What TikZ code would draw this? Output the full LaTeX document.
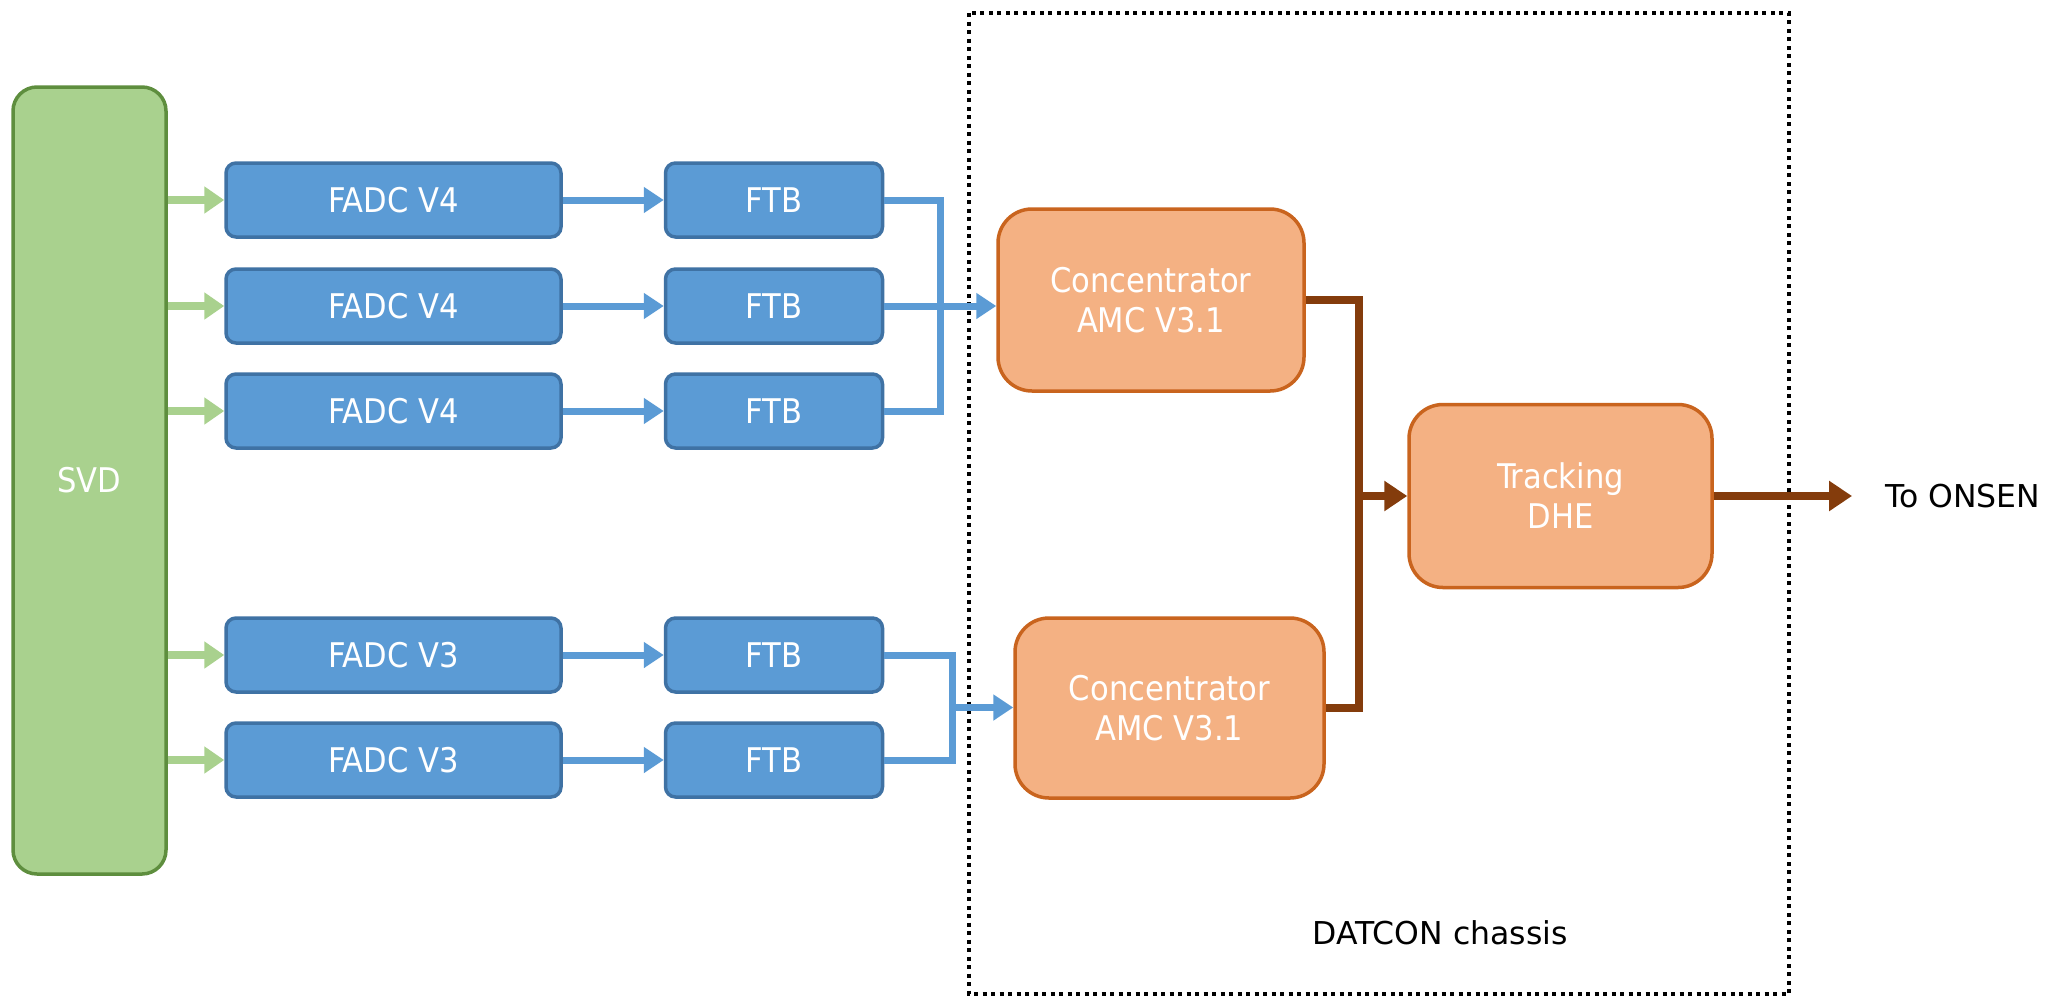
\documentclass[tikz,border=0pt]{standalone}
\usepackage{fontspec}
\setmainfont{DejaVu Sans}
\newfontfamily\boxfont{DejaVu Sans Condensed}
\usetikzlibrary{arrows.meta}

\definecolor{svdfill}{HTML}{A9D18E}
\definecolor{svdline}{HTML}{5E8E3E}
\definecolor{bluefill}{HTML}{5B9BD5}
\definecolor{blueline}{HTML}{3F72A4}
\definecolor{orangefill}{HTML}{F4B183}
\definecolor{orangeline}{HTML}{C9641E}
\definecolor{brownline}{HTML}{843C0C}
\definecolor{greenarrow}{HTML}{A9D18E}

\tikzset{
  svdbox/.style={draw=svdline, fill=svdfill, line width=3.5pt, rounded corners=24pt,
    minimum width=153pt, minimum height=787pt, inner sep=0pt,
    text=white, font=\boxfont\fontsize{34}{40}\selectfont},
  fadcbox/.style={draw=blueline, fill=bluefill, line width=3.5pt, rounded corners=10pt,
    minimum width=335pt, minimum height=74pt, inner sep=0pt,
    text=white, font=\boxfont\fontsize{34}{40}\selectfont},
  ftbbox/.style={fadcbox, minimum width=217pt},
  concbox/.style={draw=orangeline, fill=orangefill, line width=3.5pt, rounded corners=34pt,
    minimum width=306pt, minimum height=182pt, inner sep=0pt, align=center,
    text=white, font=\boxfont\fontsize{34}{40}\selectfont},
  garrow/.style={draw=greenarrow, line width=8pt, -{Triangle[width=26pt,length=20pt]}},
  bline/.style={draw=bluefill, line width=7pt, line join=miter},
  barrow/.style={bline, -{Triangle[width=25pt,length=20pt]}},
  rline/.style={draw=brownline, line width=8pt, line join=miter},
  rarrow/.style={rline, -{Triangle[width=29pt,length=23pt]}},
  chassis/.style={draw=black, line width=3.5pt, dash pattern=on 4pt off 4.5pt},
  plainlabel/.style={text=black, inner sep=0pt, font=\fontsize{31.5}{38}\selectfont}
}

\begin{document}
\begin{tikzpicture}[x=1pt, y=-1pt]
\useasboundingbox (0,0) rectangle (2045,997);

% DATCON chassis outline
\draw[chassis] (969,13) rectangle (1789,994);

% detector and readout boards
\node[svdbox] (svd) at (89.5,480.5) {SVD};

\node[fadcbox] (f1) at (393.5,200) {FADC V4};
\node[fadcbox] (f2) at (393.5,306) {FADC V4};
\node[fadcbox] (f3) at (393.5,411) {FADC V4};
\node[fadcbox] (f4) at (393.5,655) {FADC V3};
\node[fadcbox] (f5) at (393.5,760) {FADC V3};

\node[ftbbox] (t1) at (774,200) {FTB};
\node[ftbbox] (t2) at (774,306) {FTB};
\node[ftbbox] (t3) at (774,411) {FTB};
\node[ftbbox] (t4) at (774,655) {FTB};
\node[ftbbox] (t5) at (774,760) {FTB};

% processing boards inside the chassis
\node[concbox] (c1) at (1151,300) {Concentrator\\AMC V3.1};
\node[concbox, minimum width=309pt, minimum height=180pt] (c2) at (1169.5,708) {Concentrator\\AMC V3.1};
\node[concbox, minimum width=303pt, minimum height=183pt] (trk) at (1560.5,496) {Tracking\\DHE};

\node[plainlabel, anchor=west] (onsen) at (1885,496) {To ONSEN};
\node[plainlabel] (chassislabel) at (1440,933) {DATCON chassis};

% junction points of the merging links
\coordinate (m1) at (940,306);
\coordinate (m2) at (952,707.5);
\coordinate (m3) at (1359,496);
\coordinate (outend) at (1852,496);

% SVD to FADC
\foreach \f in {f1,f2,f3,f4,f5}
  \draw[garrow] (svd.east |- \f.west) -- (\f.west);

% FADC to FTB
\foreach \i in {1,...,5}
  \draw[barrow] (f\i.east) -- (t\i.west);

% FTB links merging into the concentrators
\draw[bline] (t1.east) -- (t1.east -| m1) -- (t3.east -| m1) -- (t3.east);
\draw[barrow] (t2.east) -- (t2.east -| c1.west);
\draw[bline] (t4.east) -- (t4.east -| m2) -- (t5.east -| m2) -- (t5.east);
\draw[barrow] (m2) -- (m2 -| c2.west);

% concentrators to tracking
\draw[rline] (c1.east) -- (c1.east -| m3) -- (c2.east -| m3) -- (c2.east);
\draw[rarrow] (m3) -- (trk.west);
\draw[rarrow] (trk.east) -- (outend);
\end{tikzpicture}
\end{document}
